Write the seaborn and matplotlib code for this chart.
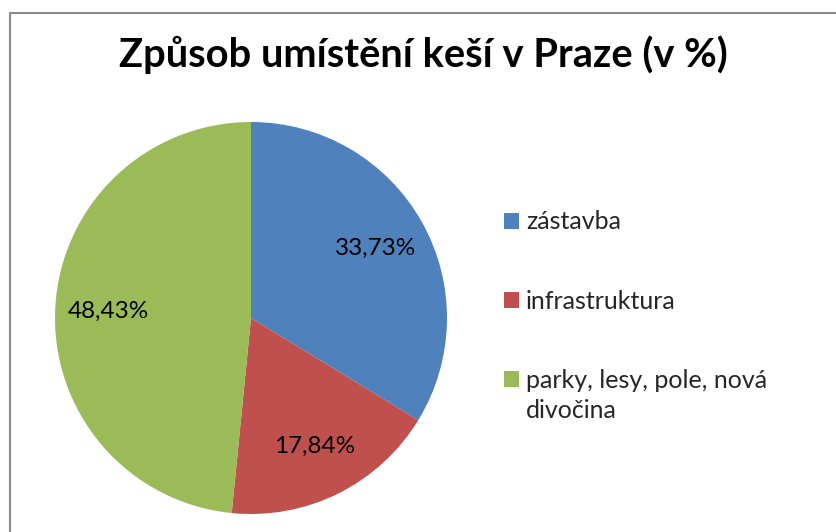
import matplotlib
matplotlib.use("Agg")
import matplotlib.pyplot as plt
from matplotlib.patches import Rectangle
import seaborn as sns

categories = ["zástavba", "infrastruktura", "parky, lesy, pole, nová\ndivočina"]
shares = [33.73, 17.84, 48.43]
colors = ["#4F81BD", "#C0504D", "#9BBB59"]
title = "Způsob umístění keší v Praze (v %)"

sns.set_theme(style="white")
plt.rcParams["font.family"] = ["Lato", "DejaVu Sans"]

W, H = 836, 532
fig = plt.figure(figsize=(W / 100, H / 100), dpi=100)

# pie centred at (251, 318) px with radius 196 px
cx, cy, r = 251, 318, 196
ax = fig.add_axes([(cx - r) / W, (H - cy - r) / H, 2 * r / W, 2 * r / H])

palette = sns.color_palette(colors)
wedges, _, autotexts = ax.pie(
    shares,
    colors=palette,
    startangle=90,
    counterclock=False,
    autopct=lambda p: f"{p:.2f}%".replace(".", ","),
    pctdistance=0.73,
    textprops={"fontsize": 17.5, "color": "black"},
    wedgeprops={"linewidth": 0},
)
ax.set_xlim(-1, 1)
ax.set_ylim(-1, 1)
ax.set_aspect("equal")
ax.axis("off")

fig.text(0.5 * (120 + 727) / W, 1 - 55 / H, title, ha="center", va="center",
         fontsize=28.7, fontweight="bold", color="black")

leg_fs = 18
leg = fig.legend(
    wedges, categories,
    loc="upper left",
    bbox_to_anchor=(486 / W, 1 - 193 / H),
    frameon=False,
    fontsize=leg_fs,
    handlelength=0.6,
    handleheight=0.6,
    handletextpad=0.3,
    labelspacing=2.25,
    borderpad=0.2,
)
for t in leg.get_texts():
    t.set_linespacing(1.36)

# align each key square with the first line of its label
for handle, text in zip(leg.legend_handles, leg.get_texts()):
    n_lines = text.get_text().count("\n") + 1
    if n_lines > 1:
        shift = 0.5 * (n_lines - 1) * 1.36 * leg_fs
        handle.set_y(handle.get_y() + shift)

# chart area border (top and left edges visible)
fig.patches.append(Rectangle((9.5 / W, -0.05), 1.1, 1 - 13 / H + 0.05,
                             transform=fig.transFigure, fill=False,
                             edgecolor="#8C8C8C", linewidth=1.5))

fig.savefig("out.png", dpi=100, facecolor="white")
